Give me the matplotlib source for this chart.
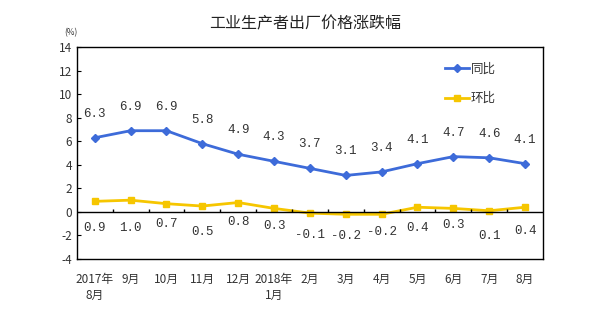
import numpy as np
import matplotlib.pyplot as plt

# data
months = ['2017年\n8月', '9月', '10月', '11月', '12月', '2018年\n1月',
          '2月', '3月', '4月', '5月', '6月', '7月', '8月']
yoy = [6.3, 6.9, 6.9, 5.8, 4.9, 4.3, 3.7, 3.1, 3.4, 4.1, 4.7, 4.6, 4.1]
mom = [0.9, 1.0, 0.7, 0.5, 0.8, 0.3, -0.1, -0.2, -0.2, 0.4, 0.3, 0.1, 0.4]

# vertical nudge (points) for the month-on-month labels
mom_nudge = [0, 0, 3, -3, 4, 1, -5, -6, -3, 0, 2, -6, -2]

plt.rcParams['font.family'] = ['Noto Sans CJK SC', 'DejaVu Sans']
plt.rcParams['axes.unicode_minus'] = False

blue = '#3d6bd9'
yellow = '#f6c600'
txt = '#333333'

fig = plt.figure(figsize=(6, 3.25), dpi=100)
ax = fig.add_axes([0.128, 0.203, 0.777, 0.652])

x = np.arange(len(months))
ax.plot(x, yoy, color=blue, lw=2, marker='D', ms=4, label='同比')
ax.plot(x, mom, color=yellow, lw=2, marker='s', ms=5, label='环比')

for i, v in enumerate(yoy):
    ax.annotate('%.1f' % v, (i, v), xytext=(0, 13), textcoords='offset points',
                ha='center', va='bottom', fontsize=9, color=txt,
                family='Liberation Mono')
for i, v in enumerate(mom):
    ax.annotate('%.1f' % v, (i, -1.35), xytext=(0, mom_nudge[i]),
                textcoords='offset points', ha='center', va='center',
                fontsize=9, color=txt, family='Liberation Mono')

ax.axhline(0, color='black', lw=1)
ax.vlines(x[1:] - 0.5, 0, 0.25, color='black', lw=1)

ax.set_xlim(-0.5, len(months) - 0.5)
ax.set_ylim(-4, 14)
ax.set_yticks(np.arange(-4, 15, 2))
ax.tick_params(axis='y', direction='in', length=3, labelsize=8.5, colors=txt)
ax.tick_params(axis='y', color='black')
ax.set_xticks(x)
ax.set_xticklabels(months, fontsize=8.5, color=txt, linespacing=1.3)
ax.tick_params(axis='x', length=0, pad=10)
for s in ax.spines.values():
    s.set_linewidth(1)

ax.legend(loc='upper right', bbox_to_anchor=(0.91, 0.95), frameon=False,
          fontsize=9, handlelength=1.9, handletextpad=0.15, labelspacing=1.3,
          labelcolor=txt, borderaxespad=0)

fig.text(0.508, 0.925, '工业生产者出厂价格涨跌幅', ha='center', va='center',
         fontsize=11.5, color='#222222')
fig.text(0.118, 0.9, '(%)', ha='center', va='center', fontsize=6, color=txt)

fig.savefig('out.png', dpi=100)
